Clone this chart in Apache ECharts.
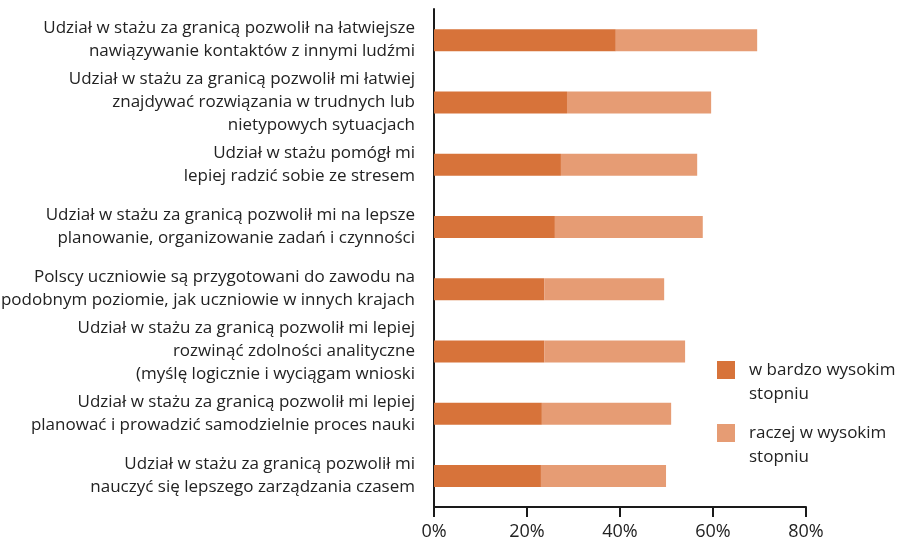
<!DOCTYPE html>
<html>
<head>
<meta charset="utf-8">
<script src="https://cdn.jsdelivr.net/npm/echarts@6/dist/echarts.min.js"></script>
<style>
  html, body { margin: 0; padding: 0; background: #fff; }
  #chart { width: 899px; height: 545px; }
</style>
</head>
<body>
<div id="chart"></div>
<script>
const categories = [
  'Udział w stażu za granicą pozwolił na łatwiejsze\nnawiązywanie kontaktów z innymi ludźmi',
  'Udział w stażu za granicą pozwolił mi łatwiej\nznajdywać rozwiązania w trudnych lub\nnietypowych sytuacjach',
  'Udział w stażu pomógł mi\nlepiej radzić sobie ze stresem',
  'Udział w stażu za granicą pozwolił mi na lepsze\nplanowanie, organizowanie zadań i czynności',
  'Polscy uczniowie są przygotowani do zawodu na\npodobnym poziomie, jak uczniowie w innych krajach',
  'Udział w stażu za granicą pozwolił mi lepiej\nrozwinąć zdolności analityczne\n(myślę logicznie i wyciągam wnioski',
  'Udział w stażu za granicą pozwolił mi lepiej\nplanować i prowadzić samodzielnie proces nauki',
  'Udział w stażu za granicą pozwolił mi\nnauczyć się lepszego zarządzania czasem'
];
const seriesNames = ['w bardzo wysokim stopniu', 'raczej w wysokim stopniu'];
const veryHigh = [39.1, 28.6, 27.3, 26.0, 23.7, 23.7, 23.2, 23.0];
const ratherHigh = [30.4, 31.0, 29.3, 31.8, 25.8, 30.3, 27.8, 26.9];

const chart = echarts.init(document.getElementById('chart'));
const font = '"Open Sans", "Noto Sans", sans-serif';

chart.setOption({
  animation: false,
  textStyle: { fontFamily: font },
  grid: { left: 434, right: 93, top: 9, bottom: 38, outerBoundsMode: 'none' },
  legend: {
    orient: 'vertical',
    left: 717,
    top: 334,
    padding: 0,
    itemWidth: 18,
    itemHeight: 18,
    itemGap: -9,
    icon: 'rect',
    data: seriesNames,
    // empty first line keeps the icon level with the first text line
    formatter: name => ' \n' + name.replace(/ stopniu$/, '\nstopniu'),
    textStyle: { fontSize: 17, color: '#222', lineHeight: 24, fontFamily: font, padding: [0, 0, 0, 9] }
  },
  xAxis: {
    type: 'value',
    min: 0,
    max: 80,
    interval: 20,
    axisLine: { show: true, lineStyle: { color: '#1a1a1a', width: 2 } },
    axisTick: { show: true, inside: false, length: 10, lineStyle: { color: '#1a1a1a', width: 2 } },
    splitLine: { show: false },
    axisLabel: { formatter: '{value}%', fontSize: 18, color: '#222', margin: 16, fontFamily: font }
  },
  yAxis: {
    type: 'category',
    inverse: true,
    data: categories,
    axisLine: { show: true, lineStyle: { color: '#1a1a1a', width: 2 } },
    axisTick: { show: false },
    axisLabel: { fontSize: 17, color: '#222', lineHeight: 23, margin: 19, align: 'right', fontFamily: font }
  },
  series: [
    {
      name: seriesNames[0],
      type: 'bar',
      stack: 'total',
      barWidth: 22,
      itemStyle: { color: '#D7733A' },
      data: veryHigh
    },
    {
      name: seriesNames[1],
      type: 'bar',
      stack: 'total',
      barWidth: 22,
      itemStyle: { color: '#E69C74' },
      data: ratherHigh
    }
  ]
});
</script>
</body>
</html>
